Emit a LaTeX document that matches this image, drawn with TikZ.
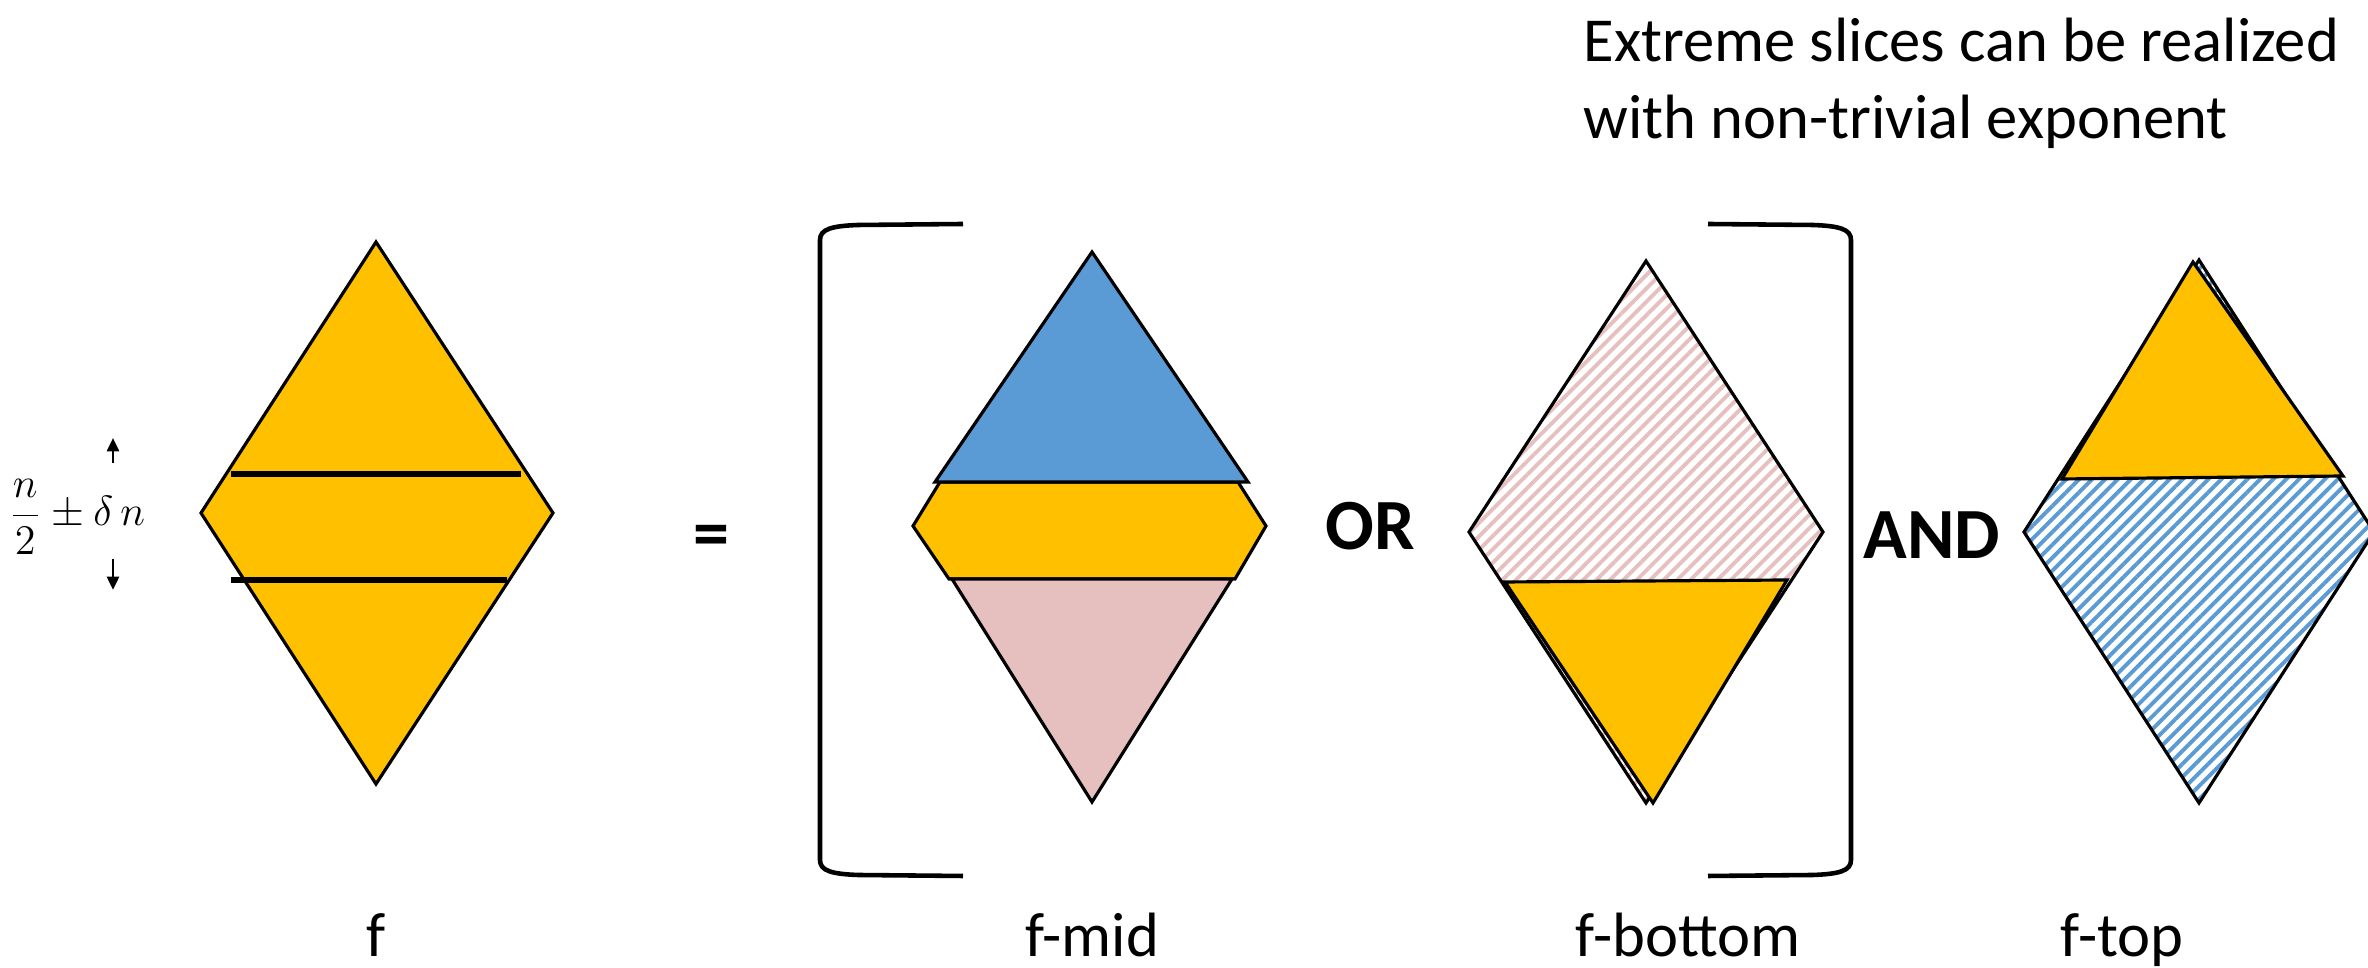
\documentclass[tikz,border=0pt]{standalone}
\usepackage{fontspec}
\setmainfont{Carlito}
\usepackage{amsmath}
\usetikzlibrary{arrows.meta,patterns.meta,positioning}

\definecolor{gold}{HTML}{FFC000}
\definecolor{sky}{HTML}{5B9BD5}
\definecolor{rose}{HTML}{E6BFBF}

\begin{document}
\begin{tikzpicture}[x=0.01cm, y=-0.01cm,
    slab/.style={draw=black, line width=0.9pt, line join=miter},
    cut/.style={line width=1.5pt},
    brack/.style={line width=1.3pt},
    lbl/.style={font=\fontsize{17.8}{22}\selectfont, inner sep=0pt, anchor=base},
    op/.style={font=\fontsize{20.5}{24}\selectfont\bfseries, inner sep=0pt, anchor=base},
    tick/.style={-{Triangle[length=3.8pt,width=3.4pt]}, line width=0.8pt},
    hatchrose/.style={pattern={Lines[angle=45,distance=2.7pt,line width=1.1pt]}, pattern color=rose},
    hatchsky/.style={pattern={Lines[angle=45,distance=2.6pt,line width=1.1pt]}, pattern color=sky}
]
    \useasboundingbox (0,0) rectangle (2368,968);
    \clip (0,0) rectangle (2368,968);

    % f
    \draw[slab, fill=gold] (376,242) -- (553,513) -- (376,784) -- (201,513) -- cycle;
    \draw[cut] (231,474) -- (521,474);
    \draw[cut] (231,580) -- (507,580);
    \node[inner sep=0pt, anchor=base west, font=\fontsize{12}{14}\selectfont] (delta) at (8,526) {$\dfrac{n}{2}\pm\delta\,n$};
    \coordinate (upFoot) at (113,463);
    \coordinate (upHead) at (113,438);
    \coordinate (dnFoot) at (113,559);
    \coordinate (dnHead) at (113,590);
    \draw[tick] (upFoot) -- (upHead);
    \draw[tick] (dnFoot) -- (dnHead);

    % f-mid
    \draw[slab, fill=gold] (940,482) -- (1238,482) -- (1266,526) -- (1235,579) -- (949,579) -- (913,526) -- cycle;
    \draw[slab, fill=rose] (952,579) -- (1232,579) -- (1092,802) -- cycle;
    \draw[slab, fill=sky] (1092,252) -- (1248,482) -- (935,482) -- cycle;

    % f-bottom
    \draw[slab, hatchrose] (1646,261) -- (1823,532) -- (1646,803) -- (1469,532) -- cycle;
    \draw[slab, fill=gold] (1505,582) -- (1787,580) -- (1653,803) -- cycle;

    % f-top
    \draw[slab, hatchsky] (2199,260) -- (2374,532) -- (2199,803) -- (2024,532) -- cycle;
    \draw[slab, fill=gold] (2193,262) -- (2343,476) -- (2062,479) -- cycle;

    % brackets
    \draw[brack] (963,224) -- (858,225) .. controls (832,226) and (820,229) .. (820,240) -- (820,860) .. controls (820,871) and (832,874) .. (858,875) -- (963,876);
    \draw[brack] (1708,224) -- (1813,225) .. controls (1839,226) and (1851,229) .. (1851,240) -- (1851,860) .. controls (1851,871) and (1839,874) .. (1813,875) -- (1708,876);

    \node[op] (eq) at (711,558) {=};
    \node[op] (orOp) at (1370,550) {OR};
    \node[op] (andOp) at (1932,559) {AND};

    \node[lbl, anchor=base west, align=left] (note) at (1583,139) {Extreme slices can be realized\\with non-trivial exponent};

    \node[lbl] (fLbl) at (376,957) {f};
    \node[lbl] (midLbl) at (1092,957) {f-mid};
    \node[lbl] (botLbl) at (1688,957) {f-bottom};
    \node[lbl] (topLbl) at (2122,957) {f-top};
\end{tikzpicture}
\end{document}
